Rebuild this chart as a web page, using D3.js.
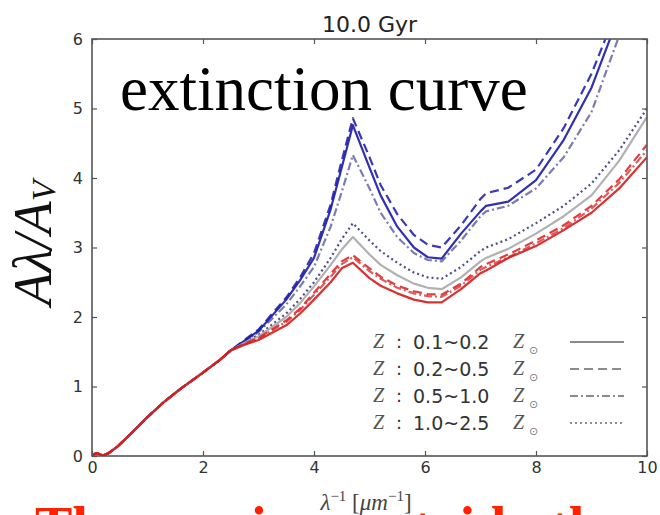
<!DOCTYPE html>
<html><head><meta charset="utf-8">
<script src="https://cdn.jsdelivr.net/npm/d3@7"></script>
<style>
html,body{margin:0;padding:0;background:#fff;}
svg{display:block;}
</style></head>
<body>
<svg id="c" width="660" height="515"></svg>
<script>
// ---- data ----
const xTicks = [0, 2, 4, 6, 8, 10];
const yTicks = [0, 1, 2, 3, 4, 5, 6];
const titleText = "10.0 Gyr";
const legendLabels = ["0.1~0.2", "0.2~0.5", "0.5~1.0", "1.0~2.5"];
const legendDash = ["solid", "dashed", "dashdot", "dotted"];

// shared low-wavenumber part (all curves coincide)
const commonX = [0, 0.05, 0.1, 0.15, 0.2, 0.3, 0.45, 0.7, 1.0, 1.3, 1.6, 2.0, 2.3, 2.5];
const commonY = [0, 0.03, 0.04, 0.02, 0.01, 0.04, 0.13, 0.32, 0.56, 0.78, 0.97, 1.2, 1.38, 1.52];

const waveX = [2.75, 3.0, 3.5, 3.75, 4.0, 4.3, 4.5, 4.7, 5.0, 5.2, 5.5, 5.8, 6.05, 6.3, 6.65, 7.0, 7.1, 7.5, 8.0, 8.5, 9.0, 9.5, 10.0];
const blueSolid   = [1.66, 1.80, 2.25, 2.53, 2.85, 3.55, 4.15, 4.76, 4.15, 3.75, 3.3, 3.0, 2.86, 2.84, 3.2, 3.52, 3.6, 3.66, 3.97, 4.55, 5.3, 6.35, 7.1];
const blueDashed  = [1.67, 1.82, 2.28, 2.57, 2.92, 3.62, 4.25, 4.86, 4.3, 3.9, 3.48, 3.18, 3.04, 3.0, 3.32, 3.7, 3.78, 3.86, 4.12, 4.72, 5.5, 6.5, 7.3];
const blueDashDot = [1.65, 1.78, 2.18, 2.44, 2.72, 3.3, 3.8, 4.33, 3.85, 3.5, 3.15, 2.92, 2.82, 2.8, 3.1, 3.45, 3.52, 3.6, 3.85, 4.3, 4.95, 6.05, 7.0];
const navyDotted  = [1.64, 1.74, 2.05, 2.26, 2.5, 2.85, 3.12, 3.35, 3.1, 2.95, 2.78, 2.64, 2.57, 2.55, 2.72, 2.95, 3.0, 3.12, 3.35, 3.6, 3.92, 4.4, 5.0];
const graySolid   = [1.63, 1.72, 2.0, 2.2, 2.44, 2.75, 2.97, 3.15, 2.9, 2.75, 2.6, 2.48, 2.42, 2.4, 2.57, 2.8, 2.85, 2.98, 3.2, 3.45, 3.75, 4.25, 4.88];
const redDashed   = [1.62, 1.70, 1.95, 2.12, 2.35, 2.62, 2.8, 2.89, 2.7, 2.58, 2.45, 2.37, 2.33, 2.32, 2.48, 2.72, 2.76, 2.9, 3.1, 3.32, 3.6, 3.98, 4.48];
const redDashDot  = [1.61, 1.69, 1.93, 2.10, 2.32, 2.58, 2.76, 2.86, 2.66, 2.55, 2.42, 2.34, 2.3, 2.29, 2.45, 2.68, 2.72, 2.86, 3.06, 3.28, 3.56, 3.93, 4.4];
const redSolid    = [1.60, 1.67, 1.88, 2.05, 2.25, 2.5, 2.7, 2.78, 2.56, 2.45, 2.34, 2.25, 2.21, 2.21, 2.4, 2.63, 2.67, 2.85, 3.02, 3.25, 3.5, 3.85, 4.3];

const seriesNames  = ["blueDashDot", "blueDashed", "blueSolid", "navyDotted", "graySolid", "redDashDot", "redDashed", "redSolid"];
const seriesValues = [blueDashDot, blueDashed, blueSolid, navyDotted, graySolid, redDashDot, redDashed, redSolid];
const seriesColor  = ["#6e6ea8", "#2424b0", "#1a1aa8", "#3b3b80", "#a8a8a8", "#e04848", "#de2a2a", "#d21c1c"];
const seriesStyle  = ["dashdot", "dashed", "solid", "dotted", "solid", "dashdot", "dashed", "solid"];

const dashMap = {solid: null, dashed: "9,5", dashdot: "8,3,2,3", dotted: "2,3"};

// ---- layout ----
const svg = d3.select("#c");
const x = d3.scaleLinear().domain([0, 10]).range([92, 647]);
const y = d3.scaleLinear().domain([0, 6]).range([456, 39]);

svg.append("defs").append("clipPath").attr("id", "plotclip")
  .append("rect").attr("x", x(0)).attr("y", y(6)).attr("width", x(10) - x(0)).attr("height", y(0) - y(6));

// "extinction curve" annotation (behind lines)
svg.append("text").attr("x", 120).attr("y", 110)
  .attr("font-family", "Liberation Serif, Times New Roman, serif").attr("font-size", 63)
  .attr("fill", "#000").text("extinction curve");

// curves
const line = d3.line().x(d => x(d[0])).y(d => y(d[1])).curve(d3.curveLinear);
const g = svg.append("g").attr("clip-path", "url(#plotclip)");
seriesValues.forEach((vals, i) => {
  const pts = commonX.map((cx, k) => [cx, commonY[k]]).concat(waveX.map((wx, k) => [wx, vals[k]]));
  g.append("path").datum(pts)
    .attr("d", line)
    .attr("fill", "none")
    .attr("stroke", seriesColor[i])
    .attr("stroke-width", 2.2)
    .attr("stroke-linejoin", "round")
    .attr("stroke-dasharray", dashMap[seriesStyle[i]])
    .attr("opacity", 0.9)
    .attr("data-name", seriesNames[i]);
});

// axes (matplotlib-classic look: ticks inward on all four sides)
const axisColor = "#555";
const tickFont = "DejaVu Sans, sans-serif";
function styleAxis(sel) {
  sel.select(".domain").remove();
  sel.selectAll(".tick line").attr("stroke", axisColor).attr("stroke-width", 1.2);
  sel.selectAll(".tick text").attr("fill", "#333").attr("font-family", tickFont).attr("font-size", 16);
}
svg.append("g").attr("transform", `translate(0,${y(0)})`)
  .call(d3.axisBottom(x).tickValues(xTicks).tickFormat(d3.format("d")).tickSizeInner(-5).tickSizeOuter(0).tickPadding(6))
  .call(styleAxis);
svg.append("g").attr("transform", `translate(0,${y(6)})`)
  .call(d3.axisTop(x).tickValues(xTicks).tickFormat("").tickSizeInner(-5).tickSizeOuter(0))
  .call(styleAxis);
svg.append("g").attr("transform", `translate(${x(0)},0)`)
  .call(d3.axisLeft(y).tickValues(yTicks).tickFormat(d3.format("d")).tickSizeInner(-5).tickSizeOuter(0).tickPadding(9))
  .call(styleAxis);
svg.append("g").attr("transform", `translate(${x(10)},0)`)
  .call(d3.axisRight(y).tickValues(yTicks).tickFormat("").tickSizeInner(-5).tickSizeOuter(0))
  .call(styleAxis);

// frame
svg.append("rect").attr("x", x(0)).attr("y", y(6)).attr("width", x(10) - x(0)).attr("height", y(0) - y(6))
  .attr("fill", "none").attr("stroke", axisColor).attr("stroke-width", 1.6);

// title
svg.append("text").attr("x", (x(0) + x(10)) / 2).attr("y", 32).attr("text-anchor", "middle")
  .attr("font-family", tickFont).attr("font-size", 22).attr("fill", "#222").text(titleText);

// y label  A_λ / A_V
const yl = svg.append("text").attr("transform", "translate(51,243) rotate(-90)")
  .attr("text-anchor", "middle").attr("font-family", "Liberation Serif, Times New Roman, serif")
  .attr("font-style", "italic").attr("font-size", 54).attr("fill", "#111");
yl.append("tspan").text("Aλ/A");
yl.append("tspan").attr("font-size", 34).attr("dy", 4).text("V");

// x label  λ^-1 [μm^-1]
const xl = svg.append("text").attr("x", 366).attr("y", 510).attr("text-anchor", "middle")
  .attr("font-family", "Liberation Serif, Times New Roman, serif").attr("font-size", 23).attr("fill", "#444");
xl.append("tspan").attr("font-style", "italic").text("λ");
xl.append("tspan").attr("font-size", 15).attr("dy", -9).text("−1");
xl.append("tspan").attr("dy", 9).text(" [");
xl.append("tspan").attr("font-style", "italic").text("μm");
xl.append("tspan").attr("font-size", 15).attr("dy", -9).text("−1");
xl.append("tspan").attr("dy", 9).text("]");

// legend
const legY = [342, 369, 396, 423];
const lg = svg.append("g");
legendLabels.forEach((lab, i) => {
  const row = lg.append("g").attr("transform", `translate(0,${legY[i]})`);
  row.append("text").attr("x", 373).attr("y", 6).attr("font-family", "Liberation Serif, serif")
    .attr("font-style", "italic").attr("font-size", 20).attr("fill", "#555").text("Z");
  row.append("text").attr("x", 396).attr("y", 6).attr("font-family", tickFont)
    .attr("font-size", 18).attr("fill", "#333").text(":");
  row.append("text").attr("x", 413).attr("y", 7).attr("font-family", tickFont)
    .attr("font-size", 19).attr("fill", "#333").text(lab);
  row.append("text").attr("x", 513).attr("y", 6).attr("font-family", "Liberation Serif, serif")
    .attr("font-style", "italic").attr("font-size", 20).attr("fill", "#555").text("Z");
  row.append("text").attr("x", 529).attr("y", 12).attr("font-family", "DejaVu Sans, sans-serif")
    .attr("font-size", 11).attr("fill", "#777").text("⊙");
  row.append("line").attr("x1", 570).attr("x2", 624).attr("y1", 0).attr("y2", 0)
    .attr("stroke", "#8c8c8c").attr("stroke-width", 2)
    .attr("stroke-dasharray", dashMap[legendDash[i]]);
});

// red overlay caption (mostly cut off at the bottom of the slide)
const cap = svg.append("text").attr("y", 546)
  .attr("font-family", "Liberation Serif, Times New Roman, serif").attr("font-weight", "bold")
  .attr("font-size", 56).attr("fill", "#ff2200");
cap.append("tspan").attr("x", 35).text("The one ");
cap.append("tspan").attr("x", 251).text("is more ");
cap.append("tspan").attr("x", 391).text("staid ");
cap.append("tspan").attr("x", 550).text("than the");
</script>
</body></html>
